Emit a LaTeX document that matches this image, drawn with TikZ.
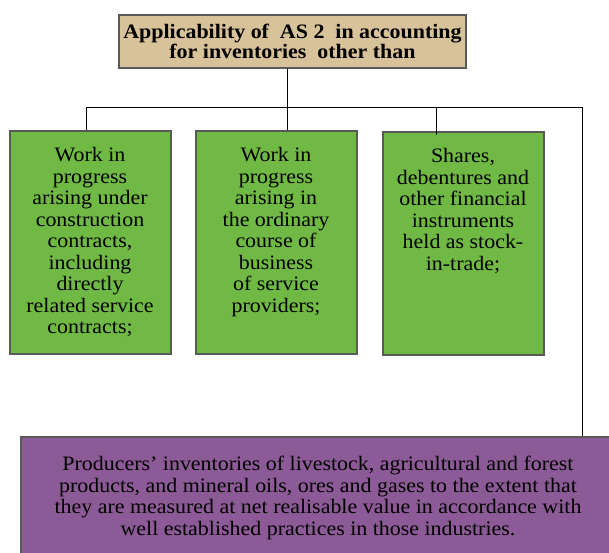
\documentclass[tikz,border=0pt]{standalone}
\usepackage{fontspec}
\setmainfont{Liberation Serif}[FakeStretch=1.07]
\usepackage{xcolor}
\usetikzlibrary{shadows}
\definecolor{boxtan}{HTML}{D8C29A}
\definecolor{boxgreen}{HTML}{71B945}
\definecolor{boxpurple}{HTML}{8C5A96}
\tikzset{
  box/.style={draw=black!65, line width=2pt, inner sep=0pt,
    drop shadow={shadow xshift=1.2pt, shadow yshift=-1.2pt, opacity=.7}},
  titlebox/.style={box, fill=boxtan, minimum width=347pt, minimum height=53pt,
    align=center, font=\fontsize{20.5}{20}\selectfont\bfseries},
  greenbox/.style={box, fill=boxgreen, minimum width=161pt, minimum height=223pt},
  purplebox/.style={box, fill=boxpurple, minimum width=594pt, minimum height=122pt,
    align=center, font=\fontsize{20.5}{21.5}\selectfont},
  link/.style={line width=1pt}
}
\newcommand{\greentext}[1]{\parbox[c][190pt][t]{158pt}{\centering\fontsize{20.5}{21.5}\selectfont #1}}

\begin{document}
\begin{tikzpicture}[x=1pt,y=-1pt]
\useasboundingbox (0,0) rectangle (609,552);
% boxes
\node[titlebox] (title) at (292.5,41.5) {Applicability of~ AS 2~ in accounting\\for inventories~ other than};
\node[greenbox] (wip) at (90,242.5) {\greentext{Work in\\progress\\arising under\\construction\\contracts,\\including\\directly\\related service\\contracts;}};
\node[greenbox] (service) at (276,242.5) {\greentext{Work in\\progress\\arising in\\the ordinary\\course of\\business\\of service\\providers;}};
\node[greenbox] (shares) at (463,243.5) {\greentext{Shares,\\debentures and\\other financial\\instruments\\held as stock-\\in-trade;}};
\node[purplebox] (producers) at (318,498) {Producers’ inventories of livestock, agricultural and forest\\products, and mineral oils, ores and gases to the extent that\\they are measured at net realisable value in accordance with\\well established practices in those industries.};
% connectors
\coordinate (busL) at (86,107);
\coordinate (busM) at (287,107);
\coordinate (busS) at (436,107);
\coordinate (busR) at (582,107);
\draw[link] (busM |- title.south) -- (busM |- service.north);
\draw[link] (busL |- wip.north) -- (busL) -- (busR) -- (busR |- producers.north);
\draw[link] (busS) -- ([yshift=-4pt]busS |- shares.north);
\end{tikzpicture}
\end{document}
